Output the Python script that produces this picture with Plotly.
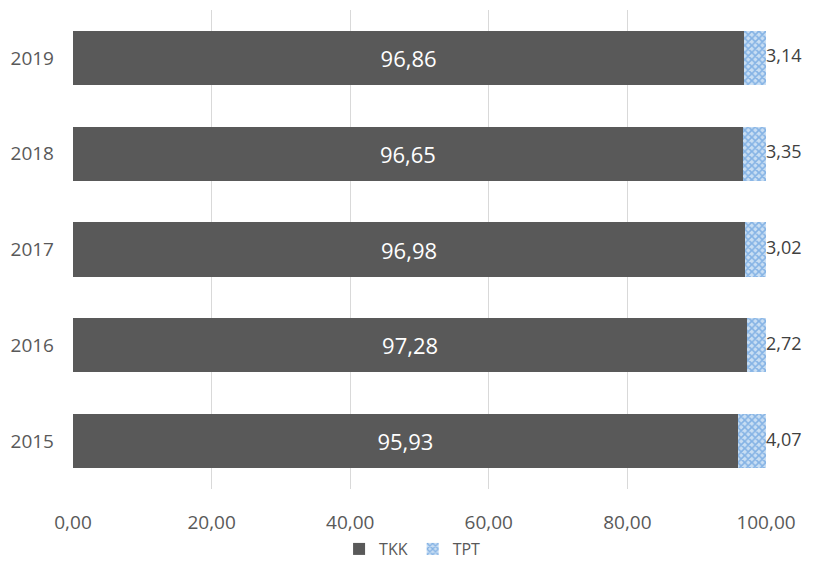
import plotly.graph_objects as go

years = ["2015", "2016", "2017", "2018", "2019"]
tkk = [95.93, 97.28, 96.98, 96.65, 96.86]
tpt = [4.07, 2.72, 3.02, 3.35, 3.14]
x_ticks = [0, 20, 40, 60, 80, 100]

def fmt(v):
    return f"{v:.2f}".replace(".", ",")

FONT = "Open Sans"

fig = go.Figure()
fig.add_trace(go.Bar(
    y=years, x=tkk, orientation="h", name="TKK",
    marker=dict(color="#595959", line=dict(width=0)),
    text=[fmt(v) for v in tkk], textposition="inside", insidetextanchor="middle",
    textfont=dict(color="white", size=22, family=FONT),
    width=0.565,
))
fig.add_trace(go.Bar(
    y=years, x=tpt, orientation="h", name="TPT",
    marker=dict(color="#9dc3e6", line=dict(width=0),
                pattern=dict(shape="x", fgcolor="#3f86d6", bgcolor="#c9def3", size=5, solidity=0.55)),
    width=0.565,
))
fig.add_trace(go.Scatter(
    y=years, x=[a + b for a, b in zip(tkk, tpt)], mode="text",
    text=[fmt(v) for v in tpt], textposition="middle right",
    textfont=dict(color="#404040", size=18, family=FONT),
    showlegend=False, hoverinfo="skip", cliponaxis=False,
))

fig.update_layout(
    width=816, height=566,
    barmode="stack",
    plot_bgcolor="white", paper_bgcolor="white",
    margin=dict(l=73, r=50, t=10, b=77, autoexpand=False),
    font=dict(family=FONT, color="#595959", size=18),
    legend=dict(orientation="h", x=0.49, xanchor="center", y=0.03, yanchor="middle",
                yref="container",
                font=dict(size=16, color="#595959", family=FONT), traceorder="normal",
                itemwidth=30, tracegroupgap=0),
    xaxis=dict(range=[0, 100], tickvals=x_ticks, ticktext=[fmt(v) for v in x_ticks],
               showgrid=True, gridcolor="#d9d9d9", gridwidth=1, zeroline=False,
               showline=False, ticks="outside", ticklen=16, tickcolor="white",
               tickfont=dict(size=19, color="#595959", family=FONT)),
    yaxis=dict(categoryorder="array", categoryarray=years, showgrid=False, zeroline=False,
               showline=False, ticks="", ticklabelstandoff=18,
               tickfont=dict(size=19, color="#595959", family=FONT)),
)
fig.write_html("out.html")
